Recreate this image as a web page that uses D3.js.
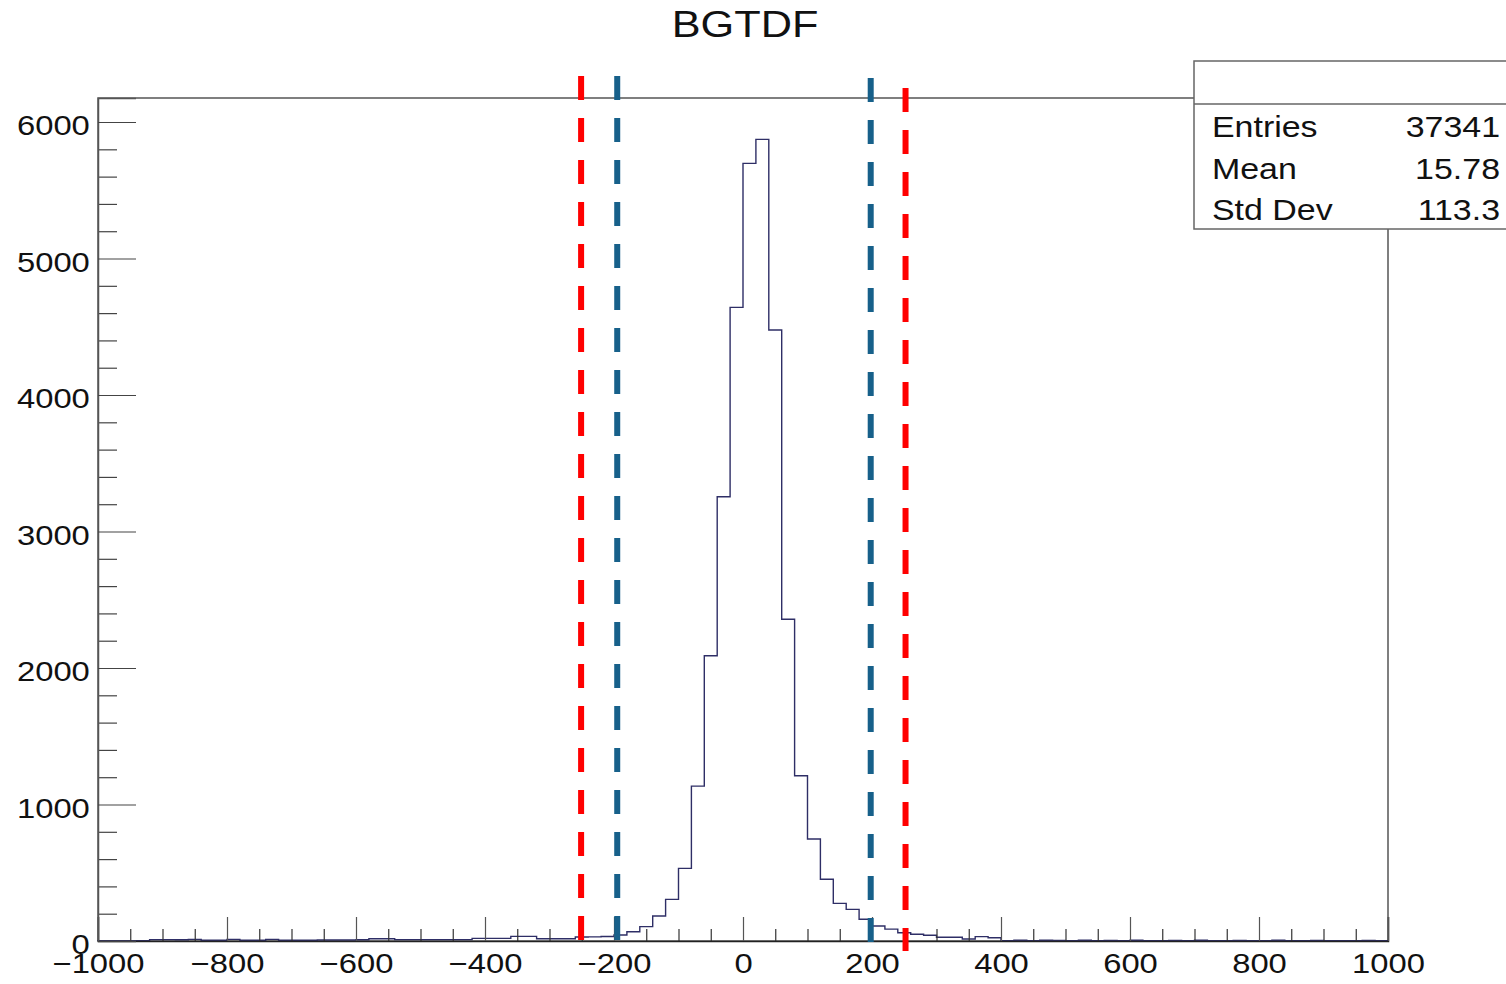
<!DOCTYPE html>
<html>
<head>
<meta charset="utf-8">
<script src="https://cdn.jsdelivr.net/npm/d3@7"></script>
<style>
  html, body { margin: 0; padding: 0; background: #fff; }
  svg { display: block; }
  text { font-family: "Liberation Sans", Arial, Helvetica, sans-serif; fill: #111; }
</style>
</head>
<body>
<svg id="chart" width="1506" height="984"></svg>
<script>
// ---------------- data ----------------
const title = "BGTDF";
const xDomain = [-1000, 1000];
const binWidth = 20;
const counts = [
  2, 3, 2, 3, 10, 10, 9, 12, 5, 5,
  12, 5, 5, 12, 5, 5, 5, 7, 7, 7,
  9, 17, 17, 10, 10, 10, 10, 10, 10, 19,
  19, 19, 34, 34, 17, 17, 17, 29, 30, 33,
  44, 68, 105, 183, 305, 532, 1135, 2090, 3255, 4642,
  5697, 5873, 4476, 2357, 1211, 747, 452, 276, 232, 159,
  110, 87, 60, 50, 42, 27, 27, 15, 32, 24,
  3, 5, 2, 6, 4, 3, 5, 2, 4, 3,
  6, 2, 3, 4, 2, 5, 3, 2, 4, 3,
  2, 5, 3, 2, 4, 3, 2, 3, 4, 2
];
const xMajorTicks = [-1000, -800, -600, -400, -200, 0, 200, 400, 600, 800, 1000];
const yMajorTicks = [0, 1000, 2000, 3000, 4000, 5000, 6000];
const yMax = 6176;
const redCuts = [-251, 252];
const redCutTop = [6337, 6249];
const redCutBottom = [7, -73];
const blueCuts = [-195, 198];
const blueCutTop = [6337, 6322];
const blueCutBottom = [7, -7];
const statLabels = ["Entries", "Mean", "Std Dev"];
const statValues = ["37341", "15.78", "113.3"];

// ---------------- layout ----------------
const svg = d3.select("#chart");
const frame = { left: 98, right: 1388, top: 98, bottom: 941 };
const SX = 1.17; // horizontal text stretch
const x = d3.scaleLinear().domain(xDomain).range([frame.left, frame.right]);
const y = d3.scaleLinear().domain([0, yMax]).range([frame.bottom, frame.top]);
const fmt = d3.format("d");

// frame
svg.append("rect")
  .attr("x", frame.left).attr("y", frame.top)
  .attr("width", frame.right - frame.left).attr("height", frame.bottom - frame.top)
  .attr("fill", "none").attr("stroke", "#555").attr("stroke-width", 1.5);

// histogram
const binLows = d3.range(xDomain[0], xDomain[1], binWidth);
const pts = [[xDomain[0], 0]];
binLows.forEach((b, i) => pts.push([b, counts[i]]));
pts.push([xDomain[1], counts[counts.length - 1]]);
pts.push([xDomain[1], 0]);
const line = d3.line().x(d => x(d[0])).y(d => y(d[1])).curve(d3.curveStepAfter);
svg.append("path").attr("d", line(pts))
  .attr("fill", "none").attr("stroke", "#2e2e66").attr("stroke-width", 1.4);

// x axis: minor ticks
const xMinor = d3.range(-950, 1000, 50).filter(v => v % 200 !== 0);
svg.append("g").attr("transform", `translate(0,${frame.bottom})`)
  .call(d3.axisBottom(x).tickValues(xMinor).tickSize(-12).tickFormat(""))
  .call(g => g.select(".domain").remove())
  .call(g => g.selectAll("line").attr("stroke", "#333").attr("stroke-width", 1.2));
// x axis: major
svg.append("g").attr("transform", `translate(0,${frame.bottom})`)
  .call(d3.axisBottom(x).tickValues(xMajorTicks).tickSize(-24).tickPadding(12).tickFormat(fmt))
  .call(g => g.select(".domain").attr("stroke", "#222").attr("stroke-width", 1.5))
  .call(g => g.selectAll("line").attr("stroke", "#555").attr("stroke-width", 1.2))
  .call(g => g.selectAll("text")
      .attr("font-size", 28).attr("fill", "#111")
      .attr("font-family", "Liberation Sans, Arial, sans-serif")
      .attr("transform", `scale(${SX},1)`));

// y axis: minor
const yMinor = d3.range(200, yMax, 200).filter(v => v % 1000 !== 0);
svg.append("g").attr("transform", `translate(${frame.left},0)`)
  .call(d3.axisLeft(y).tickValues(yMinor).tickSize(-19).tickFormat(""))
  .call(g => g.select(".domain").remove())
  .call(g => g.selectAll("line").attr("stroke", "#444").attr("stroke-width", 1.2));
// y axis: major
svg.append("g").attr("transform", `translate(${frame.left},0)`)
  .call(d3.axisLeft(y).tickValues(yMajorTicks).tickSize(-38).tickPadding(7).tickFormat(fmt))
  .call(g => g.select(".domain").attr("stroke", "#555").attr("stroke-width", 1.5))
  .call(g => g.selectAll("line").attr("stroke", "#444").attr("stroke-width", 1.2))
  .call(g => g.selectAll("text")
      .attr("font-size", 28).attr("fill", "#111").attr("dy", "0.46em")
      .attr("font-family", "Liberation Sans, Arial, sans-serif")
      .attr("transform", `scale(${SX},1)`));

// cut lines
function cutLine(xv, top, bottom, color) {
  svg.append("line")
    .attr("x1", x(xv)).attr("x2", x(xv))
    .attr("y1", y(top)).attr("y2", y(bottom))
    .attr("stroke", color).attr("stroke-width", 6)
    .attr("stroke-dasharray", "24,18");
}
redCuts.forEach((v, i) => cutLine(v, redCutTop[i], redCutBottom[i], "#ff0000"));
blueCuts.forEach((v, i) => cutLine(v, blueCutTop[i], blueCutBottom[i], "#17608a"));

// title
svg.append("text")
  .attr("transform", `translate(745,37) scale(${SX},1)`)
  .attr("text-anchor", "middle").attr("font-size", 37)
  .text(title);

// stats box
const box = { x: 1194, y: 61, w: 340, h: 168, div: 104 };
svg.append("rect").attr("x", box.x).attr("y", box.y).attr("width", box.w).attr("height", box.h)
  .attr("fill", "#fff").attr("stroke", "#666").attr("stroke-width", 1.5);
svg.append("line").attr("x1", box.x).attr("x2", box.x + box.w)
  .attr("y1", box.div).attr("y2", box.div).attr("stroke", "#666").attr("stroke-width", 1.5);
const statBaselines = [137, 178.5, 220];
statLabels.forEach((s, i) => {
  svg.append("text")
    .attr("transform", `translate(1212,${statBaselines[i]}) scale(${SX},1)`)
    .attr("font-size", 29).text(s);
  svg.append("text")
    .attr("transform", `translate(1500,${statBaselines[i]}) scale(${SX},1)`)
    .attr("text-anchor", "end").attr("font-size", 29).text(statValues[i]);
});
</script>
</body>
</html>
